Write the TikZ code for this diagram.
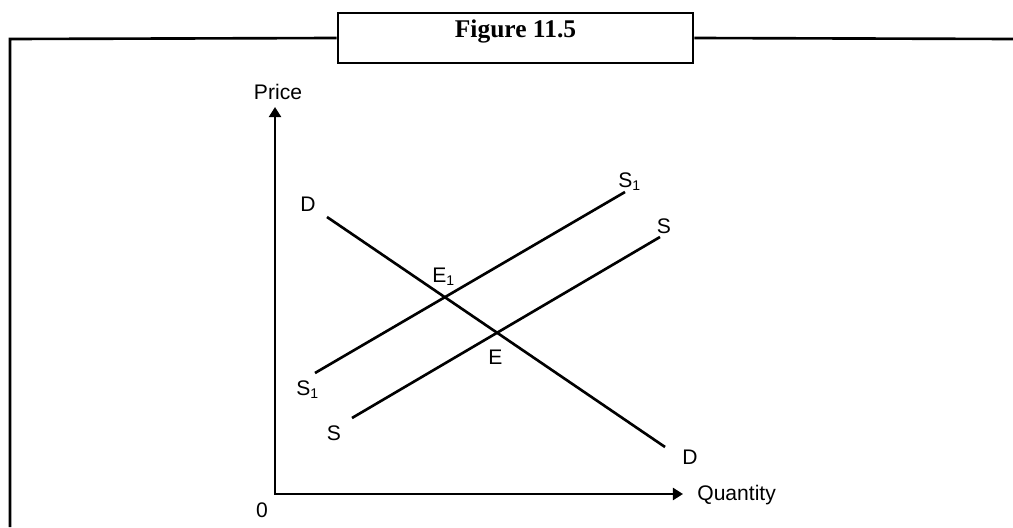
\documentclass[tikz,border=0pt]{standalone}
\usepackage{fontspec}
\setmainfont{Liberation Sans}
\newfontfamily\figfont{Liberation Serif}
\usetikzlibrary{arrows.meta}

\begin{document}
\begin{tikzpicture}[x=0.02cm, y=-0.02cm]
\tikzset{
  frameline/.style={line width=1.5pt},
  titlebox/.style={draw, line width=1.5pt, fill=white, minimum width=7.1cm, minimum height=1cm,
    text height=6pt, text depth=6pt, font=\figfont\bfseries\fontsize{14.5}{16}\selectfont},
  axis/.style={line width=1.3pt, line join=miter,
    {Triangle[length=5.7pt, width=6.8pt]}-{Triangle[length=5.7pt, width=6.8pt]}},
  curve/.style={line width=1.5pt},
  lbl/.style={font=\fontsize{12}{14}\selectfont, inner sep=0pt}
}
\useasboundingbox (0,0) rectangle (1013,527);
% frame with caption box
\node[titlebox] (title) at (515.5,38) {Figure 11.5};
\coordinate (fbot) at (10,527);
\coordinate (fcorner) at (10,39);
\coordinate (fright) at (1013,39);
\draw[frameline] (fbot) -- (fcorner) -- (title.west);
\draw[frameline] (title.east) -- (fright);
% axes
\coordinate (o) at (275,494);
\coordinate (ytip) at (275,107);
\coordinate (xtip) at (683,494);
\draw[axis] (ytip) -- (o) -- (xtip);
\node[lbl] (price) at (278,92) {Price};
\node[lbl, anchor=base west] (qty) at (697,500) {Quantity};
\node[lbl, anchor=base] (zero) at (262,517) {0};
% demand and supply curves
\coordinate (d1) at (327,217);
\coordinate (d2) at (665,447);
\coordinate (s1a) at (315,373);
\coordinate (s1b) at (625,192);
\coordinate (sa) at (352,418);
\coordinate (sb) at (660,237);
\draw[curve] (d1) -- (d2);
\draw[curve] (s1a) -- (s1b);
\draw[curve] (sa) -- (sb);
\node[lbl, anchor=base] (dtop) at (308,211) {D};
\node[lbl, anchor=base] (dbot) at (690,464) {D};
\node[lbl, anchor=base west] (s1bot) at (296,395) {S\textsubscript{1}};
\node[lbl, anchor=base west] (s1top) at (618,187) {S\textsubscript{1}};
\node[lbl, anchor=base] (stop) at (664,233) {S};
\node[lbl, anchor=base] (sbot) at (334,440) {S};
\node[lbl, anchor=base west] (e1) at (432,282) {E\textsubscript{1}};
\node[lbl, anchor=base west] (e) at (488,364) {E};
\end{tikzpicture}
\end{document}
